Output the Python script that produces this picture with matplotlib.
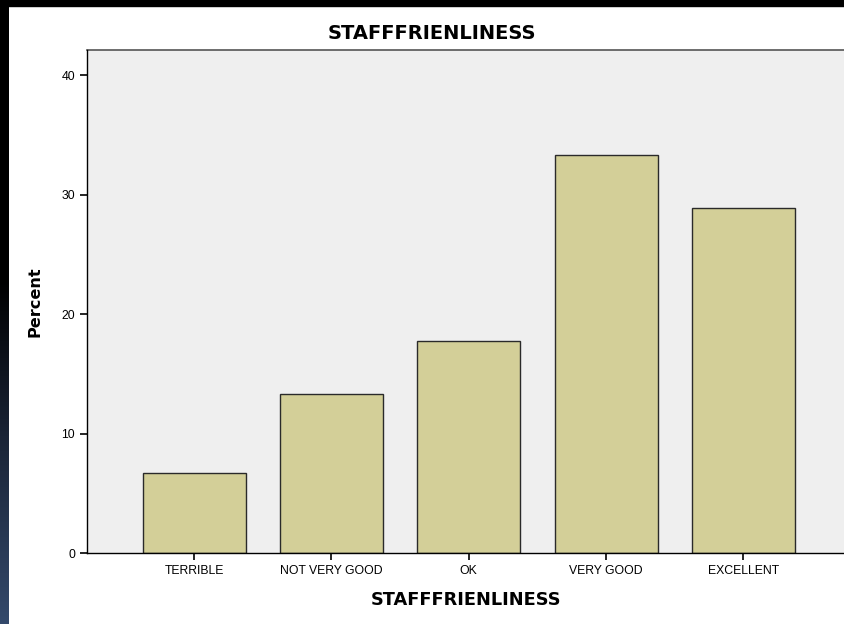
import numpy as np
import matplotlib
matplotlib.use("Agg")
import matplotlib.pyplot as plt
from matplotlib.colors import LinearSegmentedColormap

# =====================================================
# DATA
# =====================================================

categories = ["TERRIBLE", "NOT VERY GOOD", "OK", "VERY GOOD", "EXCELLENT"]
percent = [6.67, 13.33, 17.78, 33.33, 28.89]
y_ticks = [0, 10, 20, 30, 40]
title_text = "STAFFFRIENLINESS"

plt.rcParams["font.family"] = ["Liberation Sans", "DejaVu Sans"]
bold_font = ["DejaVu Sans"]

# =====================================================
# FIGURE
# =====================================================

fig = plt.figure(figsize=(8.45, 6.24), dpi=100)
fig.patch.set_facecolor("white")

# dark frame: top band and left band with gradient
fig.patches.append(plt.Rectangle((0, 1 - 6 / 624), 1, 6 / 624,
                                 transform=fig.transFigure, color="black", zorder=0))
strip = fig.add_axes([0, 0, 9 / 845, 1])
grad = np.linspace(0, 1, 256).reshape(-1, 1)
cmap = LinearSegmentedColormap.from_list(
    "edge", [(0, "black"), (0.45, "black"), (0.7, "#1a2436"), (1, "#34496b")])
strip.imshow(grad, aspect="auto", cmap=cmap, origin="upper")
strip.set_axis_off()

ax = fig.add_axes([87 / 845, 71 / 624, 1 - 87 / 845, 503 / 624])
ax.set_facecolor("#EFEFEF")

x = np.arange(len(categories))
ax.bar(x, percent, width=0.75, color="#D3CF98",
       edgecolor="#2a2a2a", linewidth=1.0, zorder=2)

ax.set_xlim(-0.78, 4.74)
ax.set_ylim(0, 42.1)

ax.set_yticks(y_ticks)
ax.set_xticks(x)
ax.set_xticklabels(categories)
ax.tick_params(axis="both", direction="out", length=5, width=1.2,
               labelsize=8.8, colors="black")

for side in ["top", "right"]:
    ax.spines[side].set_visible(False)
ax.spines["left"].set_linewidth(1.0)
ax.spines["bottom"].set_linewidth(1.0)
ax.plot([0, 1], [1, 1], transform=ax.transAxes, color="#555555",
        linewidth=1.2, clip_on=False)

# =====================================================
# LABELS
# =====================================================

fig.text(432 / 845, 1 - 39 / 624, title_text, ha="center", va="baseline",
         fontsize=14, fontweight="bold", family=bold_font)
ax.set_xlabel(title_text, fontsize=12.8, fontweight="bold",
              family=bold_font, labelpad=10)
ax.set_ylabel("Percent", fontsize=11.6, fontweight="bold",
              family=bold_font, labelpad=14)

fig.savefig("out.png", dpi=100)
